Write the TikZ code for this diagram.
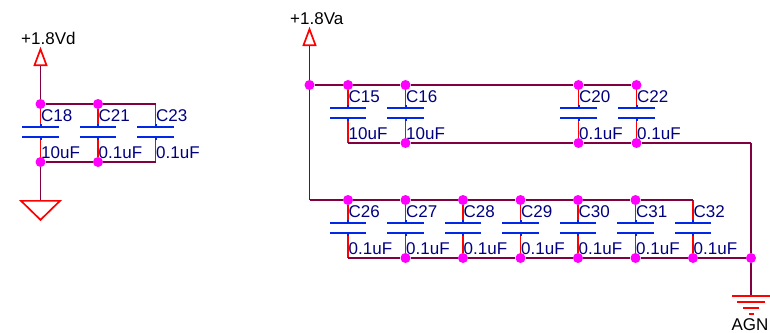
\documentclass[tikz,border=0pt]{standalone}
\usepackage{fontspec}
\setmainfont{Liberation Sans}
\usetikzlibrary{positioning}
\usetikzlibrary{shapes.geometric}

\definecolor{wirecol}{RGB}{128,0,64}
\definecolor{platecol}{RGB}{0,40,230}
\definecolor{textcol}{RGB}{0,0,128}
\definecolor{dotcol}{RGB}{255,0,255}

\tikzset{
	wire/.style = {draw = wirecol, line width = 1.7pt},
	pin/.style = {draw = red, line width = 1.7pt, shorten > = 3pt},
	plate/.style = {draw = platecol, line width = 2pt},
	dot/.style = {circle, fill = dotcol, inner sep = 0pt, minimum size = 10pt},
	caplabel/.style = {text = textcol, inner sep = 0pt, anchor = west, font = \fontsize{17}{18}\selectfont},
	netlabel/.style = {text = black, inner sep = 0pt, font = \fontsize{17}{18}\selectfont},
	supply/.style = {isosceles triangle, isosceles triangle stretches, draw = red, line width = 1.7pt, shape border rotate = 90, anchor = apex, inner sep = 0pt, minimum width = 12pt, minimum height = 16pt},
	gnd/.style = {isosceles triangle, isosceles triangle stretches, draw = red, line width = 1.7pt, shape border rotate = -90, anchor = lower side, inner sep = 0pt, minimum width = 39pt, minimum height = 19pt},
	gndbar/.style = {rectangle, fill = red, inner sep = 0pt, minimum height = 2pt},
	capnode/.style n args = {2}{
		rectangle, inner sep = 0pt, minimum width = 36pt, minimum height = 10pt, name = #1,
		append after command = {
			\pgfextra{\let\capbody\tikzlastnode}
			(\capbody.north west) edge[plate] (\capbody.north east)
			(\capbody.south west) edge[plate] (\capbody.south east)
			(\capbody.north) edge[plate] ++(0pt,3pt)
			(\capbody.south) edge[plate] ++(0pt,-3pt)
			(\capbody.center) ++(0.5pt,16.5pt) node[caplabel, name = #1name] {#1}
			(\capbody.center) ++(0.5pt,-20.5pt) node[caplabel, name = #1value] {#2}
		}
	}
}

\begin{document}
\begin{tikzpicture}[x = 1pt, y = -1pt, on grid]
		\useasboundingbox (0,0) rectangle (770,332);
		
		% digital side
		\node[capnode = {C18}{10uF}] at (40.5,132) {};
		\node[capnode = {C21}{0.1uF}, right = 57.5pt of C18] {};
		\node[capnode = {C23}{0.1uF}, right = 57.5pt of C21] {};
		
		\node[dot, above = 28pt of C18] (T18) {};
		\node[dot, above = 28pt of C21] (T21) {};
		\coordinate[above = 28pt of C23] (T23);
		\node[dot, below = 30pt of C18] (B18) {};
		\node[dot, below = 30pt of C21] (B21) {};
		\coordinate[below = 30pt of C23] (B23);
		
		\node[supply] (VD) at (40.5,47) {};
		\node[netlabel, anchor = west] (VDname) at (21,38) {+1.8Vd};
		\node[gnd] (GD) at (40.5,200) {};
		
		\path[pin] (T18) edge (C18.north);
		\path[pin] (T21) edge (C21.north);
		\path[pin] (T23) edge (C23.north);
		\path[pin] (B18) edge (C18.south);
		\path[pin] (B21) edge (C21.south);
		\path[pin] (B23) edge (C23.south);
		
		\path[wire] (VD.lower side) edge (T18);
		\path[wire] (T18) edge (T21);
		\path[wire] (T21) edge (T23);
		\path[wire] (B18) edge (B21);
		\path[wire] (B21) edge (B23);
		\path[wire] (B18) edge (GD.lower side);
		
		% analog side, upper row
		\node[capnode = {C15}{10uF}] at (348,113) {};
		\node[capnode = {C16}{10uF}, right = 57.5pt of C15] {};
		\node[capnode = {C20}{0.1uF}, right = 173pt of C16] {};
		\node[capnode = {C22}{0.1uF}, right = 58pt of C20] {};
		
		\node[dot, above = 28pt of C15] (T15) {};
		\node[dot, above = 28pt of C16] (T16) {};
		\node[dot, above = 28pt of C20] (T20) {};
		\node[dot, above = 28pt of C22] (T22) {};
		\coordinate[below = 30pt of C15] (B15);
		\node[dot, below = 30pt of C16] (B16) {};
		\node[dot, below = 30pt of C20] (B20) {};
		\node[dot, below = 30pt of C22] (B22) {};
		
		\node[dot] (RT) at (309.5,85) {};
		\node[supply] (VA) at (309.5,27) {};
		\node[netlabel, anchor = west] (VAname) at (290,19) {+1.8Va};
		\coordinate (RK) at (751,143);
		
		\path[pin] (T15) edge (C15.north);
		\path[pin] (T16) edge (C16.north);
		\path[pin] (T20) edge (C20.north);
		\path[pin] (T22) edge (C22.north);
		\path[pin] (B15) edge (C15.south);
		\path[pin] (B16) edge (C16.south);
		\path[pin] (B20) edge (C20.south);
		\path[pin] (B22) edge (C22.south);
		
		\path[wire] (VA.lower side) edge (RT);
		\path[wire] (RT) edge (T15);
		\path[wire] (T15) edge (T16);
		\path[wire] (T16) edge (T20);
		\path[wire] (T20) edge (T22);
		\path[wire] (B15) edge (B16);
		\path[wire] (B16) edge (B20);
		\path[wire] (B20) edge (B22);
		\path[wire] (B22) edge (RK);
		
		% analog side, lower row
		\node[capnode = {C26}{0.1uF}] at (348,228) {};
		\node[capnode = {C27}{0.1uF}, right = 57.5pt of C26] {};
		\node[capnode = {C28}{0.1uF}, right = 57.5pt of C27] {};
		\node[capnode = {C29}{0.1uF}, right = 57.5pt of C28] {};
		\node[capnode = {C30}{0.1uF}, right = 57.5pt of C29] {};
		\node[capnode = {C31}{0.1uF}, right = 57.5pt of C30] {};
		\node[capnode = {C32}{0.1uF}, right = 57.5pt of C31] {};
		
		\node[dot, above = 28pt of C26] (T26) {};
		\node[dot, above = 28pt of C27] (T27) {};
		\node[dot, above = 28pt of C28] (T28) {};
		\node[dot, above = 28pt of C29] (T29) {};
		\node[dot, above = 28pt of C30] (T30) {};
		\node[dot, above = 28pt of C31] (T31) {};
		\coordinate[above = 28pt of C32] (T32);
		\coordinate[below = 30pt of C26] (B26);
		\node[dot, below = 30pt of C27] (B27) {};
		\node[dot, below = 30pt of C28] (B28) {};
		\node[dot, below = 30pt of C29] (B29) {};
		\node[dot, below = 30pt of C30] (B30) {};
		\node[dot, below = 30pt of C31] (B31) {};
		\node[dot, below = 30pt of C32] (B32) {};
		
		\coordinate (RL) at (309.5,200);
		\node[dot] (JA) at (751,258) {};
		
		\node[gndbar, minimum width = 39pt] (AG1) at (751,296.3) {};
		\node[gndbar, minimum width = 28pt, below = 6pt of AG1] (AG2) {};
		\node[gndbar, minimum width = 16pt, below = 5.8pt of AG2] (AG3) {};
		\node[gndbar, minimum width = 5pt, below = 5.7pt of AG3] (AG4) {};
		\node[netlabel] (AGN) at (750,324.5) {AGN};
		
		\path[pin] (T26) edge (C26.north);
		\path[pin] (T27) edge (C27.north);
		\path[pin] (T28) edge (C28.north);
		\path[pin] (T29) edge (C29.north);
		\path[pin] (T30) edge (C30.north);
		\path[pin] (T31) edge (C31.north);
		\path[pin] (T32) edge (C32.north);
		\path[pin] (B26) edge (C26.south);
		\path[pin] (B27) edge (C27.south);
		\path[pin] (B28) edge (C28.south);
		\path[pin] (B29) edge (C29.south);
		\path[pin] (B30) edge (C30.south);
		\path[pin] (B31) edge (C31.south);
		\path[pin] (B32) edge (C32.south);
		
		\path[wire] (RT) edge (RL);
		\path[wire] (RL) edge (T26);
		\path[wire] (T26) edge (T27);
		\path[wire] (T27) edge (T28);
		\path[wire] (T28) edge (T29);
		\path[wire] (T29) edge (T30);
		\path[wire] (T30) edge (T31);
		\path[wire] (T31) edge (T32);
		\path[wire] (B26) edge (B27);
		\path[wire] (B27) edge (B28);
		\path[wire] (B28) edge (B29);
		\path[wire] (B29) edge (B30);
		\path[wire] (B30) edge (B31);
		\path[wire] (B31) edge (B32);
		\path[wire] (B32) edge (JA);
		\path[wire] (RK) edge (JA);
		\path[wire] (JA) edge (AG1);
	\end{tikzpicture}
\end{document}
